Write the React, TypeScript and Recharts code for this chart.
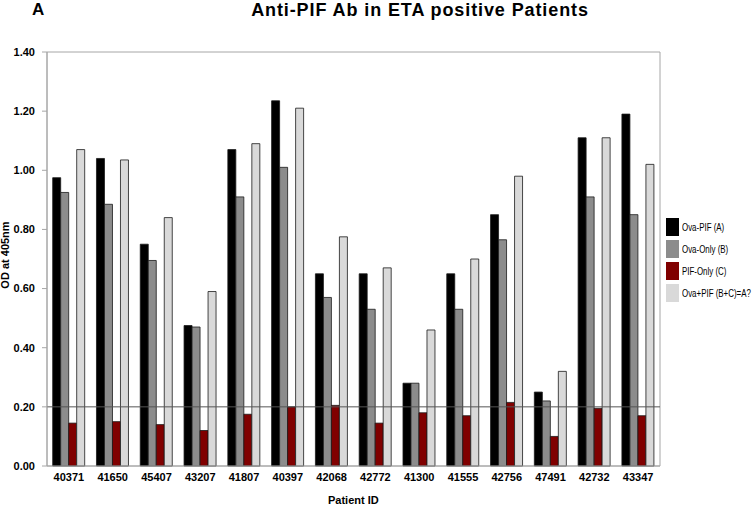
import {
  BarChart,
  Bar,
  XAxis,
  YAxis,
  ReferenceLine,
  ReferenceArea,
} from "recharts";

const patients = [
  "40371", "41650", "45407", "43207", "41807", "40397", "42068",
  "42772", "41300", "41555", "42756", "47491", "42732", "43347",
];
const ovaPif = [0.975, 1.04, 0.75, 0.475, 1.07, 1.235, 0.65, 0.65, 0.28, 0.65, 0.85, 0.25, 1.11, 1.19];
const ovaOnly = [0.925, 0.885, 0.695, 0.47, 0.91, 1.01, 0.57, 0.53, 0.28, 0.53, 0.765, 0.22, 0.91, 0.85];
const pifOnly = [0.145, 0.15, 0.14, 0.12, 0.175, 0.2, 0.205, 0.145, 0.18, 0.17, 0.215, 0.1, 0.195, 0.17];
const ovaPlusPif = [1.07, 1.035, 0.84, 0.59, 1.09, 1.21, 0.775, 0.67, 0.46, 0.7, 0.98, 0.32, 1.11, 1.02];
const yTicks = [0, 0.2, 0.4, 0.6, 0.8, 1.0, 1.2, 1.4];

const series = [
  { key: "ovaPif", name: "Ova-PIF (A)", color: "#000000" },
  { key: "ovaOnly", name: "Ova-Only (B)", color: "#8c8c8c" },
  { key: "pifOnly", name: "PIF-Only (C)", color: "#800000" },
  { key: "ovaPlusPif", name: "Ova+PIF (B+C)=A?", color: "#d9d9d9" },
];

const data = patients.map((id, i) => ({
  id,
  ovaPif: ovaPif[i],
  ovaOnly: ovaOnly[i],
  pifOnly: pifOnly[i],
  ovaPlusPif: ovaPlusPif[i],
}));

const font = "'Liberation Sans', Arial, sans-serif";

export default function App() {
  return (
    <div style={{ position: "absolute", left: 0, top: 0, width: 756, height: 505, background: "#fff", fontFamily: font }}>
      <div style={{ position: "absolute", left: 32, top: 0, fontSize: 17, fontWeight: "bold" }}>A</div>
      <div
        style={{
          position: "absolute",
          left: 220,
          top: 0,
          width: 400,
          textAlign: "center",
          fontSize: 18,
          letterSpacing: 0.9,
          fontWeight: "bold",
          whiteSpace: "nowrap",
        }}
      >
        Anti-PIF Ab in ETA positive Patients
      </div>
      <div
        style={{
          position: "absolute",
          left: 5,
          top: 255,
          fontSize: 11,
          fontWeight: "bold",
          whiteSpace: "nowrap",
          transform: "translate(-50%, -50%) rotate(-90deg)",
        }}
      >
        OD at 405nm
      </div>
      <div style={{ position: "absolute", left: 328, top: 494, fontSize: 11, fontWeight: "bold", whiteSpace: "nowrap" }}>
        Patient ID
      </div>

      <BarChart
        width={756}
        height={505}
        data={data}
        margin={{ top: 52, right: 96, left: 0, bottom: 0 }}
        barGap={0}
        barCategoryGap="13%"
      >
        <ReferenceArea y1={0} y2={1.4} fill="none" stroke="#a6a6a6" strokeWidth={1} />
        <XAxis
          dataKey="id"
          height={39}
          tickLine={false}
          tickSize={0}
          tickMargin={7}
          axisLine={{ stroke: "#a6a6a6" }}
          tick={{ fill: "#000", fontSize: 11, fontWeight: "bold", fontFamily: font }}
          interval={0}
        />
        <YAxis
          width={47}
          domain={[0, 1.4]}
          ticks={yTicks}
          tickFormatter={(v: number) => v.toFixed(2)}
          axisLine={{ stroke: "#a6a6a6" }}
          tickLine={{ stroke: "#a6a6a6" }}
          tickSize={5}
          tickMargin={7}
          tick={{ fill: "#000", fontSize: 11, fontWeight: "bold", fontFamily: font }}
          interval={0}
        />
        {series.map((s) => (
          <Bar
            key={s.key}
            dataKey={s.key}
            name={s.name}
            fill={s.color}
            stroke="#1a1a1a"
            strokeWidth={0.8}
            isAnimationActive={false}
          />
        ))}
        <ReferenceLine y={0.2} stroke="#555" strokeWidth={1} />
      </BarChart>

      <div style={{ position: "absolute", left: 666, top: 218, fontSize: 11, whiteSpace: "nowrap" }}>
        {series.map((s) => (
          <div key={s.key} style={{ display: "flex", alignItems: "center", height: 18, marginBottom: 4 }}>
            <div style={{ width: 13, height: 18, background: s.color, marginRight: 3, flexShrink: 0 }} />
            <span style={{ display: "inline-block", transform: "scaleX(0.72)", transformOrigin: "left center" }}>
              {s.name}
            </span>
          </div>
        ))}
      </div>
    </div>
  );
}
